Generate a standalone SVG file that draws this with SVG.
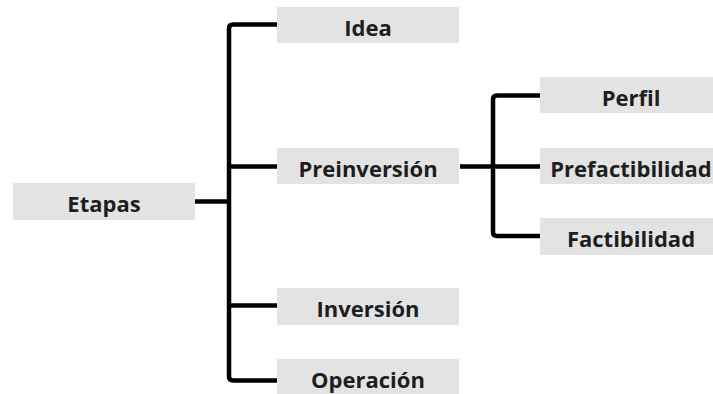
<svg xmlns="http://www.w3.org/2000/svg" width="713" height="394" viewBox="0 0 713 394">
  <style>
    .box { fill: #e3e3e3; }
    .lbl { font-family: "Open Sans", "Liberation Sans", sans-serif; font-weight: 700; font-size: 22px; fill: #1e1e1e; text-anchor: middle; }
    .wire { fill: none; stroke: #000; stroke-width: 4.5; stroke-linejoin: round; }
  </style>
  <rect width="713" height="394" fill="#fff"/>

  <g id="connectors">
    <!-- Etapas to its four stages -->
    <path class="wire" d="M195,201.5 H229"/>
    <path class="wire" d="M277,24.5 H233 Q229,24.5 229,28.5 V376.5 Q229,380.5 233,380.5 H277"/>
    <path class="wire" d="M229,166.5 H277"/>
    <path class="wire" d="M229,305.5 H277"/>
    <!-- Preinversión to its three sub-stages -->
    <path class="wire" d="M460,166.5 H493"/>
    <path class="wire" d="M540,95.5 H497 Q493,95.5 493,99.5 V232 Q493,236 497,236 H540"/>
    <path class="wire" d="M493,166.5 H540"/>
  </g>

  <g id="etapas">
    <rect class="box" x="13" y="183" width="182" height="37"/>
    <text class="lbl" x="104" y="211.5">Etapas</text>
  </g>
  <g id="idea">
    <rect class="box" x="277" y="7" width="182" height="36"/>
    <text class="lbl" x="368" y="35.5">Idea</text>
  </g>
  <g id="preinversion">
    <rect class="box" x="277" y="148" width="182" height="36"/>
    <text class="lbl" x="368" y="176.5">Preinversión</text>
  </g>
  <g id="inversion">
    <rect class="box" x="277" y="288" width="182" height="37"/>
    <text class="lbl" x="368" y="316.5">Inversión</text>
  </g>
  <g id="operacion">
    <rect class="box" x="277" y="359" width="182" height="36"/>
    <text class="lbl" x="368" y="387.5">Operación</text>
  </g>
  <g id="perfil">
    <rect class="box" x="540" y="77" width="182" height="36"/>
    <text class="lbl" x="631" y="105.5">Perfil</text>
  </g>
  <g id="prefactibilidad">
    <rect class="box" x="540" y="148" width="182" height="36"/>
    <text class="lbl" x="631" y="176.5">Prefactibilidad</text>
  </g>
  <g id="factibilidad">
    <rect class="box" x="540" y="218" width="182" height="37"/>
    <text class="lbl" x="631" y="246.5">Factibilidad</text>
  </g>
</svg>
